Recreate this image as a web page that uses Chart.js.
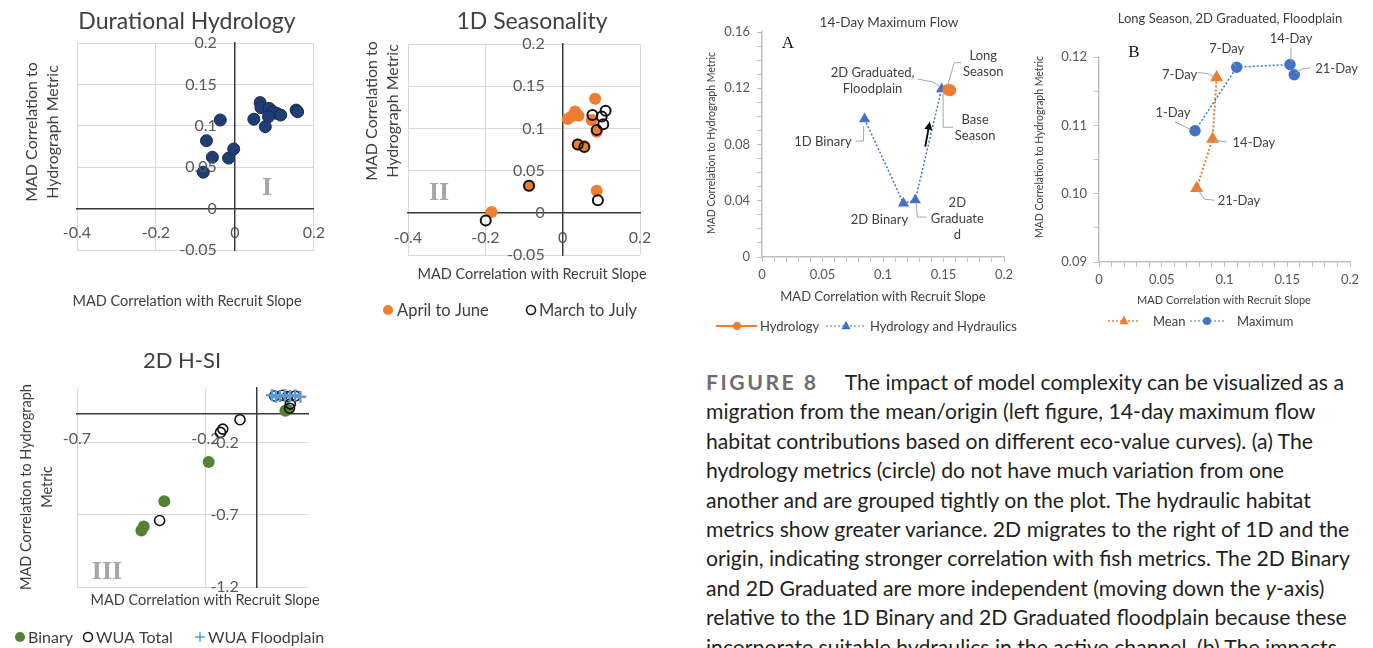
<!DOCTYPE html>
<html>
<head>
<meta charset="utf-8">
<script src="https://cdn.jsdelivr.net/npm/chart.js@4.4.1/dist/chart.umd.min.js"></script>
<style>
  html, body { margin: 0; padding: 0; background: #fff; }
  #page { position: relative; width: 1373px; height: 648px; overflow: hidden; background: #fff; }
  canvas { position: absolute; }
  #caption { position: absolute; left: 706px; top: 368px; font-family: Lato, "Open Sans", sans-serif; font-size: 21.2px; line-height: 29.4px; color: #231f20; white-space: nowrap; }
  #caption .fig { color: #6d6e71; font-weight: bold; letter-spacing: 2.5px; margin-right: 26px; }
</style>
</head>
<body>
<div id="page">
  <canvas id="c-dur" width="340" height="330" style="left:0;top:0"></canvas>
  <canvas id="c-sea" width="340" height="330" style="left:340px;top:0"></canvas>
  <canvas id="c-hsi" width="340" height="308" style="left:0;top:340px"></canvas>
  <canvas id="c-flow" width="330" height="340" style="left:700px;top:0"></canvas>
  <canvas id="c-long" width="363" height="340" style="left:1010px;top:0"></canvas>
  <div id="caption">
    <div><span class="fig">FIGURE 8</span>The impact of model complexity can be visualized as a</div>
    <div>migration from the mean/origin (left figure, 14-day maximum flow</div>
    <div>habitat contributions based on different eco-value curves). (a) The</div>
    <div>hydrology metrics (circle) do not have much variation from one</div>
    <div>another and are grouped tightly on the plot. The hydraulic habitat</div>
    <div>metrics show greater variance. 2D migrates to the right of 1D and the</div>
    <div>origin, indicating stronger correlation with fish metrics. The 2D Binary</div>
    <div>and 2D Graduated are more independent (moving down the <i>y</i>-axis)</div>
    <div>relative to the 1D Binary and 2D Graduated floodplain because these</div>
    <div>incorporate suitable hydraulics in the active channel. (b) The impacts</div>
  </div>
</div>
<script>
(function () {
  var FONT = 'Lato, "Open Sans", sans-serif';
  var SERIF = '"Liberation Serif", "DejaVu Serif", serif';
  var TXT = '#404040';
  var TICK = '#595959';

  // --- I: Durational Hydrology
  var durX = [0.064, 0.066, 0.048, 0.077, 0.087, 0.097, 0.106, 0.116, 0.085, 0.155, 0.159, -0.037, -0.072, -0.057, -0.080, -0.016, -0.003];
  var durY = [0.128, 0.122, 0.108, 0.099, 0.121, 0.117, 0.115, 0.113, 0.111, 0.119, 0.117, 0.107, 0.082, 0.062, 0.044, 0.061, 0.072];
  var durXTicks = [-0.4, -0.2, 0, 0.2];
  var durXLabels = ['-0.4', '-0.2', '0', '0.2'];
  var durYTicks = [-0.05, 0, 0.05, 0.1, 0.15, 0.2];
  var durYLabels = ['-0.05', '0', '0.05', '0.1', '0.15', '0.2'];

  // --- II: 1D Seasonality
  var aprX = [0.013, 0.023, 0.032, 0.036, 0.041, 0.084, 0.075, 0.088, 0.088, -0.087, -0.184, 0.039, 0.056];
  var aprY = [0.111, 0.114, 0.120, 0.117, 0.115, 0.135, 0.110, 0.096, 0.026, 0.032, 0.001, 0.081, 0.079];
  var marX = [0.111, 0.077, 0.101, 0.105, 0.088, 0.039, 0.056, 0.091, -0.087, -0.199];
  var marY = [0.121, 0.116, 0.114, 0.105, 0.098, 0.081, 0.078, 0.015, 0.032, -0.009];
  var seaXTicks = [-0.4, -0.2, 0, 0.2];
  var seaXLabels = ['-0.4', '-0.2', '0', '0.2'];
  var seaYTicks = [-0.05, 0, 0.05, 0.1, 0.15, 0.2];
  var seaYLabels = ['-0.05', '0', '0.05', '0.1', '0.15', '0.2'];

  // --- III: 2D H-SI
  var binX = [0.112, 0.12, -0.187, -0.360, -0.440, -0.449];
  var binY = [0.023, 0.03, -0.333, -0.606, -0.781, -0.809];
  var wuaX = [-0.065, -0.132, -0.141, -0.378, 0.128, 0.131, 0.07, 0.10, 0.12, 0.15];
  var wuaY = [-0.040, -0.105, -0.128, -0.739, 0.040, 0.070, 0.125, 0.13, 0.12, 0.125];
  var fpX = [0.06, 0.075, 0.09, 0.11, 0.13, 0.15, 0.17];
  var fpY = [0.13, 0.12, 0.125, 0.13, 0.125, 0.13, 0.12];
  var hsiXTicks = [-0.7, -0.2];
  var hsiXLabels = ['-0.7', '-0.2'];
  var hsiYTicks = [-1.2, -0.7, -0.2];
  var hsiYLabels = ['-1.2', '-0.7', '-0.2'];

  // --- A: 14-Day Maximum Flow
  var hhNames = ['1D Binary', '2D Binary', '2D\nGraduate\nd', '2D Graduated,\nFloodplain'];
  var hhX = [0.0848, 0.1169, 0.1267, 0.1484];
  var hhY = [0.0981, 0.0382, 0.0405, 0.1195];
  var hydNames = ['Long\nSeason', 'Base\nSeason'];
  var hydX = [0.1539, 0.1555];
  var hydY = [0.1190, 0.1186];
  var arrowFrom = [0.1349, 0.0785];
  var arrowTo = [0.1387, 0.0963];
  var flowXTicks = [0, 0.05, 0.1, 0.15, 0.2];
  var flowXLabels = ['0', '0.05', '0.1', '0.15', '0.2'];
  var flowYTicks = [0, 0.04, 0.08, 0.12, 0.16];
  var flowYLabels = ['0', '0.04', '0.08', '0.12', '0.16'];

  // --- B: Long Season, 2D Graduated, Floodplain
  var meanNames = ['7-Day', '14-Day', '21-Day'];
  var meanX = [0.0937, 0.0905, 0.0778];
  var meanY = [0.1170, 0.1080, 0.1008];
  var maxNames = ['1-Day', '7-Day', '14-Day', '21-Day'];
  var maxX = [0.0765, 0.1097, 0.1522, 0.1556];
  var maxY = [0.1092, 0.1185, 0.1189, 0.1174];
  var longXTicks = [0, 0.05, 0.1, 0.15, 0.2];
  var longXLabels = ['0', '0.05', '0.1', '0.15', '0.2'];
  var longYTicks = [0.09, 0.10, 0.11, 0.12];
  var longYLabels = ['0.09', '0.10', '0.11', '0.12'];

  function pts(xs, ys) {
    return xs.map(function (x, i) { return { x: x, y: ys[i] }; });
  }

  function fixedTicks(values) {
    return function (scale) {
      scale.ticks = values.map(function (v) { return { value: v }; });
    };
  }

  // major ticks get a label, minor ticks in between stay blank
  function withMinor(majors, step) {
    var all = majors.slice();
    for (var k = 0; k < majors.length - 1; k++) {
      for (var v = majors[k] + step; v < majors[k + 1] - step / 2; v += step) all.push(v);
    }
    all.sort(function (a, b) { return a - b; });
    return all;
  }

  function labelFor(majors, labels) {
    return function (value) {
      for (var i = 0; i < majors.length; i++) {
        if (Math.abs(majors[i] - value) < 1e-9) return labels[i];
      }
      return '';
    };
  }

  function font(size, weight) {
    return (weight || '') + ' ' + size + 'px ' + FONT;
  }

  function drawMarker(ctx, style, x, y, r, fill, stroke, lw) {
    ctx.save();
    ctx.beginPath();
    if (style === 'circle') {
      ctx.arc(x, y, r, 0, Math.PI * 2);
    } else if (style === 'triangle') {
      ctx.moveTo(x, y - r * 1.15);
      ctx.lineTo(x + r, y + r * 0.7);
      ctx.lineTo(x - r, y + r * 0.7);
      ctx.closePath();
    } else if (style === 'cross') {
      ctx.moveTo(x - r, y); ctx.lineTo(x + r, y);
      ctx.moveTo(x, y - r); ctx.lineTo(x, y + r);
    }
    if (fill) { ctx.fillStyle = fill; ctx.fill(); }
    if (stroke) { ctx.strokeStyle = stroke; ctx.lineWidth = lw || 1; ctx.stroke(); }
    ctx.restore();
  }

  // free text, legends and roman numerals
  function decor(texts, legend) {
    return {
      id: 'decor',
      afterDraw: function (chart) {
        var ctx = chart.ctx;
        texts.forEach(function (t) {
          ctx.save();
          ctx.font = t.font;
          ctx.fillStyle = t.color || TXT;
          ctx.textAlign = t.align || 'center';
          ctx.textBaseline = 'middle';
          ctx.translate(t.x, t.y);
          if (t.rot) ctx.rotate(t.rot);
          ctx.fillText(t.t, 0, 0);
          ctx.restore();
        });
        (legend || []).forEach(function (l) {
          if (l.line) {
            ctx.save();
            ctx.beginPath();
            ctx.setLineDash(l.line.dash || []);
            ctx.strokeStyle = l.color;
            ctx.lineWidth = l.line.width;
            ctx.moveTo(l.line.x1, l.y);
            ctx.lineTo(l.line.x2, l.y);
            ctx.stroke();
            ctx.restore();
          }
          drawMarker(ctx, l.marker, l.mx, l.y, l.r, l.fill, l.stroke, l.lw);
          ctx.save();
          ctx.font = l.font;
          ctx.fillStyle = TXT;
          ctx.textAlign = 'left';
          ctx.textBaseline = 'middle';
          ctx.fillText(l.text, l.tx, l.y + 1);
          ctx.restore();
        });
      }
    };
  }

  // y labels of the crossing axes sit a little left of the x = 0 line
  function crossYLabels(ticks, labels, gap) {
    return {
      id: 'crossYLabels',
      afterDraw: function (chart) {
        var ctx = chart.ctx;
        var x0 = chart.scales.x.getPixelForValue(0) - gap;
        ctx.save();
        ctx.font = font(16);
        ctx.fillStyle = TICK;
        ctx.textAlign = 'right';
        ctx.textBaseline = 'middle';
        ticks.forEach(function (v, i) {
          ctx.fillText(labels[i], x0, chart.scales.y.getPixelForValue(v));
        });
        ctx.restore();
      }
    };
  }

  // labels tied to data points, with grey leader lines
  function pointLabels(specs, size) {
    return {
      id: 'pointLabels',
      afterDatasetsDraw: function (chart) {
        var ctx = chart.ctx;
        specs.forEach(function (s) {
          var el = chart.getDatasetMeta(s.ds).data[s.i];
          var px = el.x, py = el.y;
          ctx.save();
          if (s.leader) {
            ctx.beginPath();
            s.leader.forEach(function (p, k) {
              if (k) ctx.lineTo(px + p[0], py + p[1]); else ctx.moveTo(px + p[0], py + p[1]);
            });
            ctx.strokeStyle = '#a6a6a6';
            ctx.lineWidth = 1;
            ctx.stroke();
          }
          ctx.font = font(size);
          ctx.fillStyle = TXT;
          ctx.textAlign = s.align || 'center';
          ctx.textBaseline = 'middle';
          s.text.split('\n').forEach(function (line, k) {
            ctx.fillText(line, px + s.dx, py + s.dy + k * 16);
          });
          ctx.restore();
        });
      }
    };
  }

  function crossChart(id, datasets, o, plugins) {
    return new Chart(document.getElementById(id), {
      type: 'scatter',
      data: { datasets: datasets },
      options: {
        responsive: false,
        animation: false,
        devicePixelRatio: 1,
        layout: { padding: o.pad },
        plugins: { legend: { display: false }, tooltip: { enabled: false } },
        scales: {
          x: {
            type: 'linear', min: o.xMin, max: o.xMax, position: { y: 0 },
            afterBuildTicks: fixedTicks(o.xTicks),
            ticks: { callback: labelFor(o.xTicks, o.xLabels), autoSkip: false, maxRotation: 0, padding: 15, color: TICK, font: { family: FONT, size: 16 } },
            grid: { color: '#d9d9d9', lineWidth: 1, drawTicks: false },
            border: { color: '#3a3a3a', width: 1.5 }
          },
          y: {
            type: 'linear', min: o.yMin, max: o.yMax, position: { x: 0 },
            afterBuildTicks: fixedTicks(o.yTicks),
            ticks: { display: false },
            grid: { color: '#d9d9d9', lineWidth: 1, drawTicks: false },
            border: { color: '#3a3a3a', width: 1.5 }
          }
        }
      },
      plugins: [crossYLabels(o.yTicks, o.yLabels, 18)].concat(plugins)
    });
  }

  function edgeChart(id, datasets, o, plugins) {
    var xAll = withMinor(o.xTicks, o.xMinor);
    var yAll = withMinor(o.yTicks, o.yMinor);
    return new Chart(document.getElementById(id), {
      type: 'scatter',
      data: { datasets: datasets },
      options: {
        responsive: false,
        animation: false,
        devicePixelRatio: 1,
        layout: { padding: o.pad },
        plugins: { legend: { display: false }, tooltip: { enabled: false } },
        scales: {
          x: {
            type: 'linear', min: o.xMin, max: o.xMax, position: 'bottom',
            afterBuildTicks: fixedTicks(xAll),
            afterFit: function (s) { s.height = o.xHeight; },
            ticks: { callback: labelFor(o.xTicks, o.xLabels), autoSkip: false, maxRotation: 0, padding: 5, color: TICK, font: { family: FONT, size: o.tickSize } },
            grid: { drawOnChartArea: false, color: '#bfbfbf', tickLength: 5 },
            border: { color: '#bfbfbf', width: 1.5 }
          },
          y: {
            type: 'linear', min: o.yMin, max: o.yMax, position: 'left',
            afterBuildTicks: fixedTicks(yAll),
            afterFit: function (s) { s.width = o.yWidth; },
            ticks: { callback: labelFor(o.yTicks, o.yLabels), autoSkip: false, padding: o.yPad, color: TICK, font: { family: FONT, size: o.tickSize } },
            grid: { drawOnChartArea: false, color: '#bfbfbf', tickLength: 5 },
            border: { color: '#bfbfbf', width: 1.5 }
          }
        }
      },
      plugins: plugins
    });
  }

  var ROT = -Math.PI / 2;

  // I
  crossChart('c-dur', [{
    data: pts(durX, durY), pointRadius: 6, backgroundColor: '#203d74', borderColor: '#162b55', borderWidth: 1
  }], {
    pad: { left: 77, top: 43, right: 20, bottom: 80 },
    xMin: -0.4, xMax: 0.2, xTicks: durXTicks, xLabels: durXLabels,
    yMin: -0.05, yMax: 0.2, yTicks: durYTicks, yLabels: durYLabels
  }, [decor([
    { t: 'Durational Hydrology', x: 187, y: 22, font: font(23) },
    { t: 'MAD Correlation to', x: 32, y: 132, rot: ROT, font: font(16) },
    { t: 'Hydrograph Metric', x: 53, y: 132, rot: ROT, font: font(16) },
    { t: 'MAD Correlation with Recruit Slope', x: 187, y: 301, font: font(14.5) },
    { t: 'I', x: 267, y: 188, font: 'bold 26px ' + SERIF, color: '#a6a6a6' }
  ])]);

  // II
  crossChart('c-sea', [{
    data: pts(marX, marY), pointRadius: 5, backgroundColor: 'rgba(0,0,0,0)', borderColor: '#111', borderWidth: 2
  }, {
    data: pts(aprX, aprY), pointRadius: 6, backgroundColor: '#ed7d31', borderColor: '#ed7d31', borderWidth: 0
  }], {
    pad: { left: 68, top: 44, right: 40, bottom: 75 },
    xMin: -0.4, xMax: 0.2, xTicks: seaXTicks, xLabels: seaXLabels,
    yMin: -0.05, yMax: 0.2, yTicks: seaYTicks, yLabels: seaYLabels
  }, [decor([
    { t: '1D Seasonality', x: 192, y: 22, font: font(23) },
    { t: 'MAD Correlation to', x: 32, y: 111, rot: ROT, font: font(16) },
    { t: 'Hydrograph Metric', x: 53, y: 111, rot: ROT, font: font(16) },
    { t: 'MAD Correlation with Recruit Slope', x: 192, y: 274, font: font(14.5) },
    { t: 'II', x: 99, y: 193, font: 'bold 26px ' + SERIF, color: '#a6a6a6' }
  ], [
    { marker: 'circle', mx: 48, y: 310, r: 5, fill: '#ed7d31', text: 'April to June', tx: 57, font: font(16.5) },
    { marker: 'circle', mx: 191, y: 310, r: 4.5, stroke: '#111', lw: 1.6, text: 'March to July', tx: 199, font: font(16.5) }
  ])]);

  // III
  crossChart('c-hsi', [{
    data: pts(fpX, fpY), pointStyle: 'cross', pointRadius: 6, borderColor: '#5b9bd5', borderWidth: 2.5
  }, {
    data: pts(wuaX, wuaY), pointRadius: 5, backgroundColor: 'rgba(0,0,0,0)', borderColor: '#111', borderWidth: 1.6
  }, {
    data: pts(binX, binY), pointRadius: 6, backgroundColor: '#538135', borderColor: '#538135', borderWidth: 0
  }], {
    pad: { left: 77, top: 48, right: 32, bottom: 61 },
    xMin: -0.7, xMax: 0.2, xTicks: hsiXTicks, xLabels: hsiXLabels,
    yMin: -1.2, yMax: 0.18, yTicks: hsiYTicks, yLabels: hsiYLabels
  }, [decor([
    { t: '2D H-SI', x: 182, y: 21, font: font(22) },
    { t: 'MAD Correlation to Hydrograph', x: 26, y: 147, rot: ROT, font: font(14.5) },
    { t: 'Metric', x: 47, y: 147, rot: ROT, font: font(14.5) },
    { t: 'MAD Correlation with Recruit Slope', x: 205, y: 260, font: font(14.5) },
    { t: 'III', x: 107, y: 232, font: 'bold 26px ' + SERIF, color: '#a6a6a6' }
  ], [
    { marker: 'circle', mx: 20, y: 297, r: 5, fill: '#538135', text: 'Binary', tx: 28, font: font(16) },
    { marker: 'circle', mx: 88, y: 297, r: 4.5, stroke: '#111', lw: 1.5, text: 'WUA Total', tx: 96, font: font(16) },
    { marker: 'cross', mx: 200, y: 297, r: 5, stroke: '#5b9bd5', lw: 1.5, text: 'WUA Floodplain', tx: 208, font: font(16) }
  ])]);

  // A
  var arrowPlugin = {
    id: 'arrow',
    afterDatasetsDraw: function (chart) {
      var ctx = chart.ctx, sx = chart.scales.x, sy = chart.scales.y;
      var x1 = sx.getPixelForValue(arrowFrom[0]), y1 = sy.getPixelForValue(arrowFrom[1]);
      var x2 = sx.getPixelForValue(arrowTo[0]), y2 = sy.getPixelForValue(arrowTo[1]);
      var a = Math.atan2(y2 - y1, x2 - x1);
      ctx.save();
      ctx.strokeStyle = '#000';
      ctx.fillStyle = '#000';
      ctx.lineWidth = 1.8;
      ctx.beginPath();
      ctx.moveTo(x1, y1);
      ctx.lineTo(x2 - 7 * Math.cos(a), y2 - 7 * Math.sin(a));
      ctx.stroke();
      ctx.beginPath();
      ctx.moveTo(x2, y2);
      ctx.lineTo(x2 - 9 * Math.cos(a - 0.45), y2 - 9 * Math.sin(a - 0.45));
      ctx.lineTo(x2 - 9 * Math.cos(a + 0.45), y2 - 9 * Math.sin(a + 0.45));
      ctx.closePath();
      ctx.fill();
      ctx.restore();
    }
  };

  edgeChart('c-flow', [{
    data: pts(hydX, hydY), showLine: true, borderColor: '#ed7d31', borderWidth: 2,
    pointRadius: 5, pointBackgroundColor: '#ed7d31', pointBorderColor: '#ed7d31'
  }, {
    data: pts(hhX, hhY), showLine: true, borderColor: '#4472c4', borderWidth: 1.5, borderDash: [2, 2],
    pointStyle: 'triangle', pointRadius: 5, pointBackgroundColor: '#4472c4', pointBorderColor: '#4472c4'
  }], {
    pad: { left: 0, top: 32, right: 26, bottom: 0 },
    xMin: 0, xMax: 0.2, xTicks: flowXTicks, xLabels: flowXLabels, xMinor: 0.01, xHeight: 83,
    yMin: 0, yMax: 0.16, yTicks: flowYTicks, yLabels: flowYLabels, yMinor: 0.01, yWidth: 62, yPad: 7,
    tickSize: 13
  }, [arrowPlugin, pointLabels([
    { ds: 1, i: 0, text: hhNames[0], dx: -13, dy: 23, align: 'right', leader: [[-9, 22], [-1, 22], [-1, 7]] },
    { ds: 1, i: 1, text: hhNames[1], dx: -24, dy: 17 },
    { ds: 1, i: 2, text: hhNames[2], dx: 42, dy: 3, leader: [[1, 3], [2, 17], [11, 17]] },
    { ds: 1, i: 3, text: hhNames[3], dx: -69, dy: -16, leader: [[-24, -10], [-9, -7], [-1, -2]] },
    { ds: 0, i: 0, text: hydNames[0], dx: 35, dy: -34, leader: [[13, -27], [6, -27], [-1, -3]] },
    { ds: 0, i: 1, text: hydNames[1], dx: 25, dy: 30, leader: [[-7, 3], [-7, 37], [3, 37]] }
  ], 13), decor([
    { t: '14-Day Maximum Flow', x: 189, y: 23, font: font(13.5) },
    { t: 'A', x: 88, y: 44, font: '17px ' + SERIF, color: '#111' },
    { t: 'MAD Correlation to Hydrograph Metric', x: 12, y: 143, rot: ROT, font: font(10.5) },
    { t: 'MAD Correlation with Recruit Slope', x: 183, y: 297, font: font(13) }
  ], [
    { marker: 'circle', mx: 37, y: 326, r: 4, fill: '#ed7d31', color: '#ed7d31', line: { x1: 16, x2: 57, width: 2 }, text: 'Hydrology', tx: 60, font: font(13) },
    { marker: 'triangle', mx: 146, y: 326, r: 4.5, fill: '#4472c4', color: '#4472c4', line: { x1: 126, x2: 166, width: 1.2, dash: [2, 2] }, text: 'Hydrology and Hydraulics', tx: 170, font: font(13) }
  ])]);

  // B
  edgeChart('c-long', [{
    data: pts(maxX, maxY), showLine: true, borderColor: '#4472c4', borderWidth: 1.5, borderDash: [2, 2],
    pointRadius: 5, pointBackgroundColor: '#4472c4', pointBorderColor: '#4472c4'
  }, {
    data: pts(meanX, meanY), showLine: true, borderColor: '#ed7d31', borderWidth: 2, borderDash: [2, 2],
    pointStyle: 'triangle', pointRadius: 5.5, pointBackgroundColor: '#ed7d31', pointBorderColor: '#ed7d31'
  }], {
    pad: { left: 0, top: 57, right: 23, bottom: 0 },
    xMin: 0, xMax: 0.2, xTicks: longXTicks, xLabels: longXLabels, xMinor: 0.01, xHeight: 78,
    yMin: 0.09, yMax: 0.12, yTicks: longYTicks, yLabels: longYLabels, yMinor: 0.005, yWidth: 89, yPad: 7,
    tickSize: 13
  }, [pointLabels([
    { ds: 0, i: 0, text: maxNames[0], dx: -22, dy: -18, leader: [[-20, -9], [-4, -1]] },
    { ds: 0, i: 1, text: maxNames[1], dx: -10, dy: -18, leader: [[-4, -5], [-1, -1]] },
    { ds: 0, i: 2, text: maxNames[2], dx: 1, dy: -26, leader: [[1, -17], [1, -3]] },
    { ds: 0, i: 3, text: maxNames[3], dx: 21, dy: -6, align: 'left', leader: [[16, -7], [8, -6], [2, -2]] },
    { ds: 1, i: 0, text: meanNames[0], dx: -37, dy: -3, leader: [[-19, -5], [-9, -4], [-2, 0]] },
    { ds: 1, i: 1, text: meanNames[1], dx: 20, dy: 4, align: 'left', leader: [[2, 1], [14, 3]] },
    { ds: 1, i: 2, text: meanNames[2], dx: 21, dy: 13, align: 'left', leader: [[1, 1], [8, 11], [18, 12]] }
  ], 13), decor([
    { t: 'Long Season, 2D Graduated, Floodplain', x: 220, y: 19, font: font(13) },
    { t: 'B', x: 124, y: 53, font: '17px ' + SERIF, color: '#111' },
    { t: 'MAD Correlation to Hydrograph Metric', x: 30, y: 147, rot: ROT, font: font(10.5) },
    { t: 'MAD Correlation with Recruit Slope', x: 214, y: 300, font: font(11) }
  ], [
    { marker: 'triangle', mx: 114, y: 321, r: 4.5, fill: '#ed7d31', color: '#ed7d31', line: { x1: 98, x2: 130, width: 1.5, dash: [2, 2] }, text: 'Mean', tx: 143, font: font(13) },
    { marker: 'circle', mx: 197, y: 321, r: 4, fill: '#4472c4', color: '#4472c4', line: { x1: 180, x2: 215, width: 1.2, dash: [2, 2] }, text: 'Maximum', tx: 227, font: font(13) }
  ])]);
})();
</script>
</body>
</html>
